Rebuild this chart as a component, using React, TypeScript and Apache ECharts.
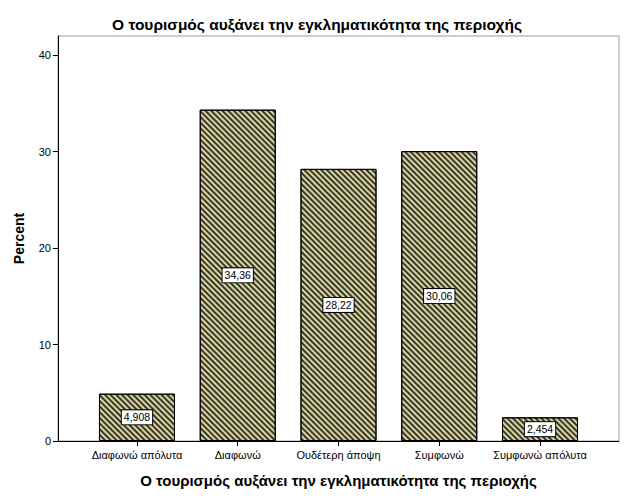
import React, { useEffect, useRef } from "react";
import * as echarts from "echarts";

const categories = [
  "Διαφωνώ απόλυτα",
  "Διαφωνώ",
  "Ουδέτερη άποψη",
  "Συμφωνώ",
  "Συμφωνώ απόλυτα",
];
const percents = [4.908, 34.36, 28.22, 30.06, 2.454];
const yTicks = [0, 10, 20, 30, 40];
const titleText = "Ο τουρισμός αυξάνει την εγκληματικότητα της περιοχής";
const xName = "Ο τουρισμός αυξάνει την εγκληματικότητα της περιοχής";
const yName = "Percent";

const FONT = "Arial, 'Liberation Sans', sans-serif";

export default function App() {
  const ref = useRef<HTMLDivElement>(null);
  useEffect(() => {
    if (!ref.current) return;
    const chart = echarts.init(ref.current, undefined, { renderer: "svg" });
    const yMax = 42;
    chart.setOption({
      animation: false,
      backgroundColor: "#ffffff",
      textStyle: { fontFamily: FONT },
      title: {
        text: titleText,
        left: 312,
        textAlign: "center",
        top: 11,
        textStyle: { fontFamily: FONT, fontSize: 15.5, fontWeight: "bold", color: "#000" },
      },
      grid: [
        {
          left: 58,
          right: 7,
          top: 36,
          bottom: 60,
          show: true,
          borderColor: "#9a9a9a",
          borderWidth: 1,
          backgroundColor: "transparent",
        },
        { left: 86.6, right: 35.6, top: 36, bottom: 60 },
      ],
      xAxis: [
        {
          gridIndex: 0,
          type: "value",
          min: 0,
          max: 1,
          axisLine: { show: true, lineStyle: { color: "#000", width: 1 } },
          axisTick: { show: false },
          axisLabel: { show: false },
          splitLine: { show: false },
          name: xName,
          nameLocation: "middle",
          nameGap: 32,
          nameTextStyle: { fontFamily: FONT, fontSize: 15, fontWeight: "bold", color: "#000" },
        },
        {
          gridIndex: 1,
          type: "category",
          data: categories,
          axisLine: { show: false },
          axisTick: { show: true, alignWithLabel: true, length: 5, lineStyle: { color: "#000" } },
          axisLabel: { fontFamily: FONT, fontSize: 11, color: "#000", margin: 8, interval: 0 },
          splitLine: { show: false },
        },
      ],
      yAxis: [
        {
          gridIndex: 0,
          type: "value",
          min: 0,
          max: yMax,
          interval: 10,
          axisLine: { show: true, lineStyle: { color: "#000", width: 1 } },
          axisTick: { show: true, length: 5, customValues: yTicks, lineStyle: { color: "#000" } },
          axisLabel: { fontFamily: FONT, fontSize: 11, color: "#000", margin: 7, customValues: yTicks },
          splitLine: { show: false },
          name: yName,
          nameLocation: "middle",
          nameGap: 32,
          nameTextStyle: { fontFamily: FONT, fontSize: 14, fontWeight: "bold", color: "#000" },
        },
        {
          gridIndex: 1,
          type: "value",
          min: 0,
          max: yMax,
          show: false,
        },
      ],
      series: [
        {
          type: "bar",
          xAxisIndex: 1,
          yAxisIndex: 1,
          data: percents,
          barWidth: 76,
          itemStyle: {
            color: "#d8d4a4",
            borderColor: "#000",
            borderWidth: 1,
            decal: {
              symbol: "rect",
              symbolSize: 1,
              color: "rgba(30,30,20,0.85)",
              dashArrayX: [1, 0],
              dashArrayY: [1.2, 1.8],
              rotation: Math.PI / 4,
            },
          },
          label: {
            show: true,
            position: "inside",
            formatter: (p: any) => String(p.value).replace(".", ","),
            fontFamily: FONT,
            fontSize: 10.5,
            color: "#000",
            backgroundColor: "#fff",
            borderColor: "#000",
            borderWidth: 1,
            padding: [2, 2, 1, 2],
          },
        },
      ],
    });
    return () => chart.dispose();
  }, []);
  return (
    <div
      ref={ref}
      style={{ position: "fixed", left: 0, top: 0, width: 626, height: 501 }}
    />
  );
}
